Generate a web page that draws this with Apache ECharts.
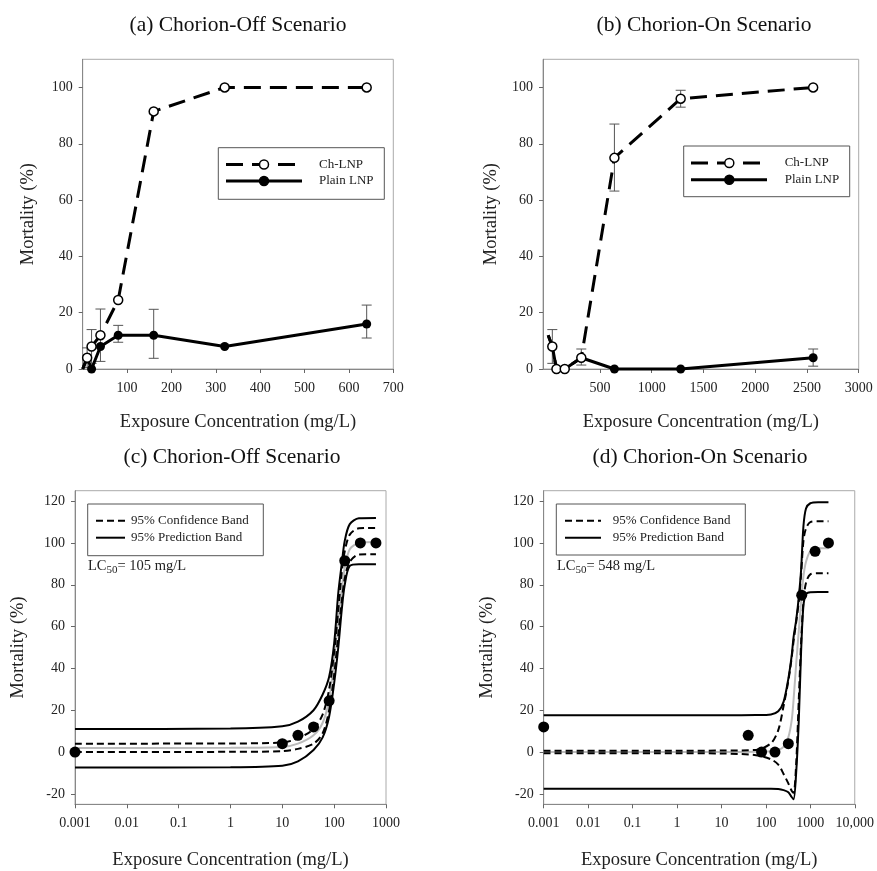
<!DOCTYPE html>
<html>
<head>
<meta charset="utf-8">
<script src="https://cdn.jsdelivr.net/npm/echarts@6/dist/echarts.min.js"></script>
<style>
html, body { margin: 0; padding: 0; background: #fff; }
#chart { width: 877px; height: 871px; }
</style>
</head>
<body>
<div id="chart"></div>
<script>
// (a) chorion-off, raw mortality vs concentration
var offConc = [0, 10, 20, 40, 80, 160, 320, 640];
var offChLNP = [0, 4, 8, 12, 24.5, 91.5, 100, 100];
var offPlain = [0, 4, 0, 8, 12, 12, 8, 16];
var offChErr = [[10, 0.5, 7.5], [20, 2, 14], [40, 2.7, 21.3]];
var offPlainErr = [[80, 9.5, 15.5], [160, 3.8, 21.2], [640, 11, 22.7]];

// (b) chorion-on
var onConc = [0, 40, 80, 160, 320, 640, 1280, 2560];
var onChLNP = [12, 8, 0, 0, 4, 75, 96, 100];
var onPlain = [12, 8, 0, 0, 4, 0, 0, 4];
var onChErr = [[40, 2, 14], [320, 1.4, 7.1], [640, 63.2, 87], [1280, 93, 99]];
var onPlainErr = [[2560, 1, 7.1]];

// (c) chorion-off dose response fit
var offDoseConc = [0.001, 10, 20, 40, 80, 160, 320, 640];
var offDose = [0, 4, 8, 12, 24.5, 91.5, 100, 100];
var offCurveConc = [0.001, 1, 10, 20, 40, 60, 80, 100, 120, 140, 160, 200, 300, 640];
var offFit = [1.9, 2, 2.4, 4, 8, 14, 25, 44, 63, 78, 88, 97, 100, 100.5];
var offUpConf = [4, 4.1, 4.6, 6.5, 11, 18, 30, 48, 68, 86, 96, 104, 107, 107.2];
var offLoConf = [0, 0.1, 0.4, 1.5, 4, 9, 20, 37, 56, 72, 83, 91, 94.5, 94.6];
var offUpPred = [11, 11.2, 12.3, 14.5, 20, 27.5, 36, 52, 76, 90, 101, 109, 111.8, 112];
var offLoPred = [-7.4, -7.3, -6.6, -4.5, 1, 7, 17, 33, 50, 68, 80, 89, 89.8, 89.8];

// (d) chorion-on dose response fit
var onDoseConc = [0.001, 40, 80, 160, 320, 640, 1280, 2560];
var onDose = [12, 8, 0, 0, 4, 75, 96, 100];
var onCurveConc = [0.001, 1, 10, 60, 130, 190, 250, 320, 380, 420, 480, 550, 620, 700, 800, 1000, 1500, 2560];
var onFit = [0, 0, 0, 0.1, 0.4, 1, 2.5, 7, 15, 25, 42, 58, 72, 84, 91, 96, 97.5, 97.5];
var onUpConf = [0.6, 0.6, 0.7, 1, 4.2, 10.5, 22, 34, 45, 53, 62, 72, 85, 101, 107, 110, 110.4, 110.4];
var onLoConf = [-0.6, -0.6, -0.7, -1.5, -3.5, -6, -10.5, -15, -18.5, -19.5, -6, 25, 52, 72, 81, 85, 85.5, 85.5];
var onUpPred = [17.6, 17.6, 17.6, 17.7, 18, 19.5, 24, 35, 46, 55, 63, 74, 87, 108, 116.5, 119, 119.5, 119.5];
var onLoPred = [-17.6, -17.6, -17.6, -17.6, -17.6, -17.7, -18.2, -19.2, -21.5, -22.6, -10, 15, 48, 70, 75.5, 76.4, 76.5, 76.5];

var linTicksA = [100, 200, 300, 400, 500, 600, 700];
var linTicksB = [500, 1000, 1500, 2000, 2500, 3000];
var pctTicksTop = [0, 20, 40, 60, 80, 100];
var pctTicksBottom = [-20, 0, 20, 40, 60, 80, 100, 120];

var FONT = 'Liberation Serif';
var chart = echarts.init(document.getElementById('chart'));

function pairs(xs, ys, hideZero) {
    return xs.map(function (x, i) {
        if (hideZero && x === 0) return { value: [x, ys[i]], symbol: 'none' };
        return [x, ys[i]];
    });
}

function errorBars(data, idx) {
    return {
        type: 'custom', xAxisIndex: idx, yAxisIndex: idx, data: data, clip: false, z: 1,
        encode: { x: 0, y: [1, 2] },
        renderItem: function (params, api) {
            var hi = api.coord([api.value(0), api.value(2)]);
            var lo = api.coord([api.value(0), api.value(1)]);
            var st = { stroke: '#555', lineWidth: 1 };
            return {
                type: 'group', children: [
                    { type: 'line', shape: { x1: hi[0], y1: hi[1], x2: lo[0], y2: lo[1] }, style: st },
                    { type: 'line', shape: { x1: hi[0] - 5, y1: hi[1], x2: hi[0] + 5, y2: hi[1] }, style: st },
                    { type: 'line', shape: { x1: lo[0] - 5, y1: lo[1], x2: lo[0] + 5, y2: lo[1] }, style: st }
                ]
            };
        }
    };
}

function chSeries(xs, ys, idx) {
    return {
        type: 'line', xAxisIndex: idx, yAxisIndex: idx, data: pairs(xs, ys, true), clip: false, z: 4,
        symbol: 'circle', symbolSize: 9,
        itemStyle: { color: '#fff', borderColor: '#000', borderWidth: 1.5 },
        lineStyle: { color: '#000', width: 3, type: [17, 9] }
    };
}

function plainSeries(xs, ys, idx) {
    return {
        type: 'line', xAxisIndex: idx, yAxisIndex: idx, data: pairs(xs, ys, true), clip: false, z: 3,
        symbol: 'circle', symbolSize: 9,
        itemStyle: { color: '#000' },
        lineStyle: { color: '#000', width: 3 }
    };
}

function curve(xs, ys, idx, color, dash) {
    return {
        type: 'line', xAxisIndex: idx, yAxisIndex: idx, data: pairs(xs, ys, false), clip: false,
        symbol: 'none', smooth: 0.3, z: 2,
        lineStyle: { color: color, width: 2, type: dash ? [7, 4] : 'solid' }
    };
}

function dots(xs, ys, idx) {
    return {
        type: 'scatter', xAxisIndex: idx, yAxisIndex: idx, data: pairs(xs, ys, false), clip: false, z: 5,
        symbolSize: 11, itemStyle: { color: '#000', opacity: 1 }
    };
}

var axisCommon = {
    axisLine: { onZero: false, lineStyle: { color: '#888' } },
    axisTick: { inside: false, length: 4, lineStyle: { color: '#666' } },
    splitLine: { show: false },
    nameLocation: 'middle',
    nameTextStyle: { fontFamily: FONT, fontSize: 18.5, color: '#222' }
};

function xLin(idx, min, max, ticks, gap) {
    return Object.assign({}, axisCommon, {
        type: 'value', gridIndex: idx, min: min, max: max,
        name: 'Exposure Concentration (mg/L)', nameGap: gap,
        axisTick: Object.assign({}, axisCommon.axisTick, { customValues: ticks }),
        axisLabel: {
            customValues: ticks, margin: 12, fontFamily: FONT, fontSize: 14, color: '#222',
            formatter: function (v) { return String(v); }
        }
    });
}

function xLog(idx, max, gap) {
    return Object.assign({}, axisCommon, {
        type: 'log', logBase: 10, gridIndex: idx, min: 0.001, max: max,
        name: 'Exposure Concentration (mg/L)', nameGap: gap,
        axisLabel: {
            margin: 12, fontFamily: FONT, fontSize: 14, color: '#222',
            formatter: function (v) { return v >= 9999 ? '10,000' : String(+v.toPrecision(3)); }
        }
    });
}

function yPct(idx, min, max, ticks, gap) {
    return Object.assign({}, axisCommon, {
        type: 'value', gridIndex: idx, min: min, max: max,
        name: 'Mortality (%)', nameGap: gap,
        axisTick: Object.assign({}, axisCommon.axisTick, { customValues: ticks }),
        axisLabel: { customValues: ticks, margin: 10, fontFamily: FONT, fontSize: 14, color: '#222' }
    });
}

function title(text, x, y) {
    return { type: 'text', x: x, y: y, style: { text: text, align: 'center', verticalAlign: 'middle', font: '21.5px "' + FONT + '"', fill: '#111' } };
}

function box(x, y, w, h) {
    return { type: 'rect', shape: { x: x, y: y, width: w, height: h }, style: { fill: '#fff', stroke: '#555', lineWidth: 1 }, z: 10 };
}
function seg(x1, x2, y, width, dash) {
    return { type: 'line', shape: { x1: x1, y1: y, x2: x2, y2: y }, style: { stroke: '#000', lineWidth: width, lineDash: dash || null }, z: 11 };
}
function dot(x, y, hollow) {
    return { type: 'circle', shape: { cx: x, cy: y, r: 4.5 }, style: { fill: hollow ? '#fff' : '#000', stroke: '#000', lineWidth: 1.5 }, z: 12 };
}
function label(text, x, y, size) {
    return { type: 'text', x: x, y: y, style: { text: text, verticalAlign: 'middle', font: (size || 13) + 'px "' + FONT + '"', fill: '#222' }, z: 12 };
}
function lc50(val, x, y) {
    return {
        type: 'text', x: x, y: y, z: 12,
        style: {
            text: '{m|LC}{s|50}{m|= ' + val + ' mg/L}', verticalAlign: 'middle', fill: '#222',
            rich: {
                m: { fontFamily: FONT, fontSize: 14.5, fill: '#222' },
                s: { fontFamily: FONT, fontSize: 11, fill: '#222', padding: [8, 0, 0, 0] }
            }
        }
    };
}

var option = {
    animation: false,
    backgroundColor: '#fff',
    grid: [
        { left: 82.7, top: 59.3, width: 310.6, height: 309.7, show: true, borderColor: '#aaa' },
        { left: 543, top: 59.3, width: 315.7, height: 309.7, show: true, borderColor: '#aaa' },
        { left: 75, top: 490.7, width: 311, height: 313.6, show: true, borderColor: '#aaa' },
        { left: 543.7, top: 490.7, width: 313.3, height: 313.6, show: true, borderColor: '#aaa' }
    ],
    xAxis: [
        xLin(0, 0, 700, linTicksA, 44),
        xLin(1, -50, 3000, linTicksB, 44),
        xLog(2, 1000, 46),
        xLog(3, 10000, 46)
    ],
    yAxis: [
        yPct(0, 0, 110, pctTicksTop, 45),
        yPct(1, 0, 110, pctTicksTop, 42),
        yPct(2, -25, 125, pctTicksBottom, 47),
        yPct(3, -25, 125, pctTicksBottom, 47)
    ],
    series: [
        errorBars(offChErr, 0), errorBars(offPlainErr, 0),
        plainSeries(offConc, offPlain, 0), chSeries(offConc, offChLNP, 0),
        errorBars(onChErr, 1), errorBars(onPlainErr, 1),
        plainSeries(onConc, onPlain, 1), chSeries(onConc, onChLNP, 1),
        curve(offCurveConc, offFit, 2, '#bbb', false),
        curve(offCurveConc, offUpConf, 2, '#000', true),
        curve(offCurveConc, offLoConf, 2, '#000', true),
        curve(offCurveConc, offUpPred, 2, '#000', false),
        curve(offCurveConc, offLoPred, 2, '#000', false),
        dots(offDoseConc, offDose, 2),
        curve(onCurveConc, onFit, 3, '#bbb', false),
        curve(onCurveConc, onUpConf, 3, '#000', true),
        curve(onCurveConc, onLoConf, 3, '#000', true),
        curve(onCurveConc, onUpPred, 3, '#000', false),
        curve(onCurveConc, onLoPred, 3, '#000', false),
        dots(onDoseConc, onDose, 3)
    ],
    graphic: [
        title('(a) Chorion-Off Scenario', 238, 25),
        title('(b) Chorion-On Scenario', 704, 25),
        title('(c) Chorion-Off Scenario', 232, 457),
        title('(d) Chorion-On Scenario', 700, 457),
        // legend (a)
        box(218.3, 147.7, 166, 51.6),
        seg(226, 297, 164.5, 3, [17, 9]), dot(264, 164.5, true), label('Ch-LNP', 319, 164.5),
        seg(226, 302, 181, 3), dot(264, 181, false), label('Plain LNP', 319, 181),
        // legend (b)
        box(683.7, 146, 166, 50.7),
        seg(691, 763, 163, 3, [17, 9]), dot(729.3, 163, true), label('Ch-LNP', 784.7, 163),
        seg(691, 767, 179.7, 3), dot(729.3, 179.7, false), label('Plain LNP', 784.7, 179.7),
        // legend (c)
        box(87.7, 504, 175.6, 51.7),
        seg(96, 125, 520.7, 2, [7, 4]), label('95% Confidence Band', 131, 520.7),
        seg(96, 125, 537.7, 2), label('95% Prediction Band', 131, 537.7),
        lc50(105, 88, 566),
        // legend (d)
        box(556.3, 504, 189, 51),
        seg(565, 601, 520.7, 2, [7, 4]), label('95% Confidence Band', 612.7, 520.7),
        seg(565, 601, 537.7, 2), label('95% Prediction Band', 612.7, 537.7),
        lc50(548, 557, 566)
    ]
};

chart.setOption(option);
</script>
</body>
</html>
